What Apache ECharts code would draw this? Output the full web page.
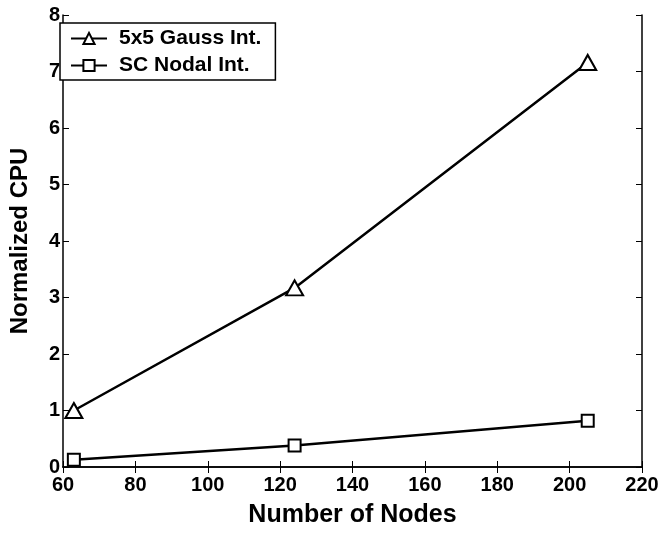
<!DOCTYPE html>
<html><head><meta charset="utf-8">
<script src="https://cdn.jsdelivr.net/npm/echarts@6/dist/echarts.min.js"></script>
<style>html,body{margin:0;padding:0;background:#fff}#c{width:662px;height:533px}</style>
</head><body><div id="c"></div>
<script>
const nodes = [63, 124, 205];
const gauss = [1.0, 3.17, 7.16];
const nodal = [0.13, 0.38, 0.82];
const seriesNames = ['5x5 Gauss Int.', 'SC Nodal Int.'];
const xTitle = 'Number of Nodes';
const yTitle = 'Normalized CPU';

const font = 'Liberation Sans, Arial, Helvetica, sans-serif';
const chart = echarts.init(document.getElementById('c'), null, {renderer: 'canvas'});
const tickStyle = {show: true, inside: true, length: 6, lineStyle: {color: '#000', width: 1}};
const lineStyle = {show: true, lineStyle: {color: '#000', width: 1.5}};
chart.setOption({
  animation: false,
  backgroundColor: '#fff',
  grid: {left: 53, right: 20, top: 15, bottom: 53},
  legend: {
    left: 60, top: 23, orient: 'vertical', itemGap: 6,
    itemWidth: 36, itemHeight: 14,
    backgroundColor: '#fff', borderColor: '#000', borderWidth: 1.5, borderRadius: 0,
    padding: [5, 14, 4, 10],
    textStyle: {fontFamily: font, fontWeight: 'bold', fontSize: 21, lineHeight: 20, color: '#000', padding: [0, 0, 0, 7]},
    data: seriesNames
  },
  xAxis: [{
    type: 'value', min: 60, max: 220, interval: 20,
    axisLine: lineStyle, axisTick: tickStyle, splitLine: {show: false},
    axisLabel: {fontFamily: font, fontWeight: 'bold', fontSize: 20, color: '#000', margin: 8},
    name: xTitle, nameLocation: 'middle', nameGap: 36,
    nameTextStyle: {fontFamily: font, fontWeight: 'bold', fontSize: 25, color: '#000'}
  }, {
    type: 'value', position: 'top', min: 60, max: 220, interval: 20,
    axisLine: lineStyle, axisTick: tickStyle, axisLabel: {show: false}, splitLine: {show: false}
  }],
  yAxis: [{
    type: 'value', min: 0, max: 8, interval: 1,
    axisLine: lineStyle, axisTick: tickStyle, splitLine: {show: false},
    axisLabel: {fontFamily: font, fontWeight: 'bold', fontSize: 20, color: '#000', margin: 3},
    name: yTitle, nameLocation: 'middle', nameGap: 31,
    nameTextStyle: {fontFamily: font, fontWeight: 'bold', fontSize: 24, color: '#000'}
  }, {
    type: 'value', position: 'right', min: 0, max: 8, interval: 1,
    axisLine: lineStyle, axisTick: tickStyle, axisLabel: {show: false}, splitLine: {show: false}
  }],
  series: [{
    name: seriesNames[0], type: 'line',
    data: nodes.map((x, i) => [x, gauss[i]]),
    symbol: 'triangle', symbolSize: [17, 15],
    itemStyle: {color: '#fff', borderColor: '#000', borderWidth: 2},
    lineStyle: {color: '#000', width: 2.5}
  }, {
    name: seriesNames[1], type: 'line',
    data: nodes.map((x, i) => [x, nodal[i]]),
    symbol: 'rect', symbolSize: 12,
    itemStyle: {color: '#fff', borderColor: '#000', borderWidth: 2},
    lineStyle: {color: '#000', width: 2.5}
  }]
});
</script></body></html>
